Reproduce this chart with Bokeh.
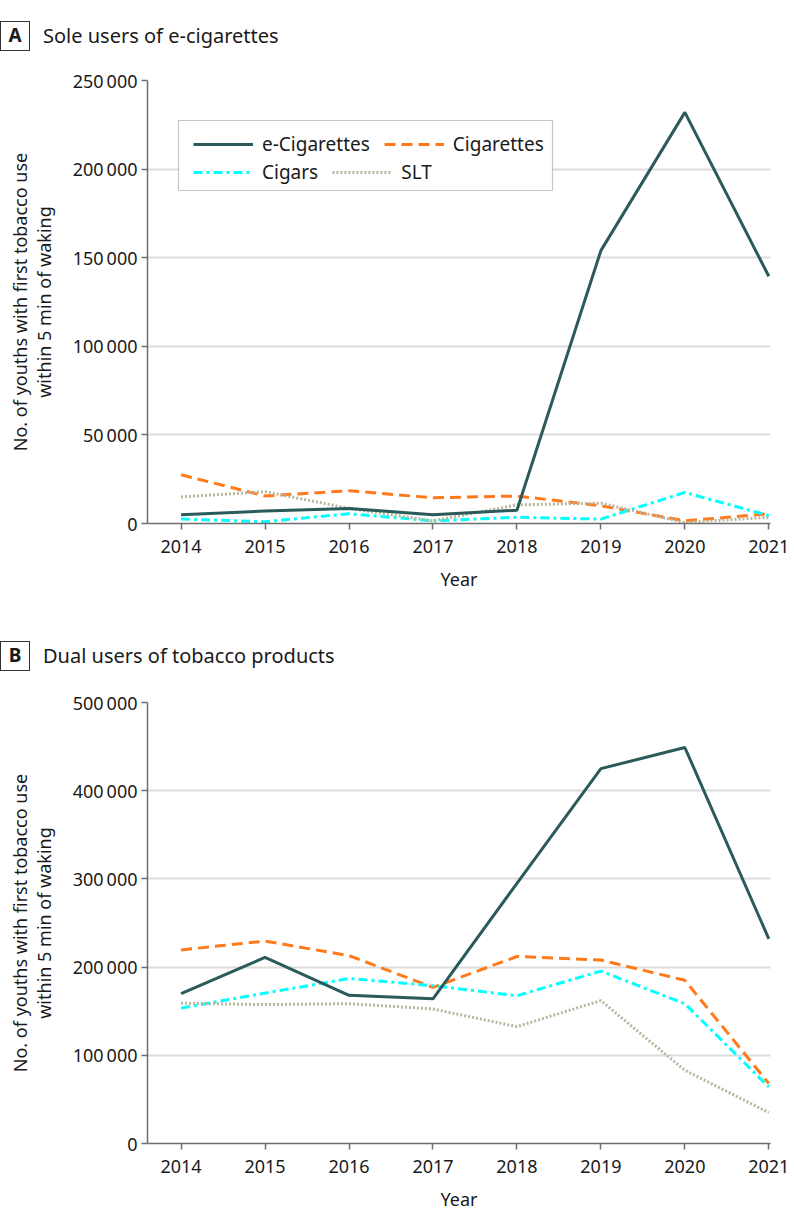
from bokeh.plotting import figure
from bokeh.models import (Range1d, FixedTicker, CustomJSTickFormatter, Legend, LegendItem,
                          BoxAnnotation, Div)
from bokeh.layouts import column
from bokeh.embed import file_html
from bokeh.resources import INLINE

years = [2014, 2015, 2016, 2017, 2018, 2019, 2020, 2021]

# Panel A: sole users of e-cigarettes
a_ecig = [5000, 7000, 8500, 5000, 7500, 154000, 232000, 139500]
a_cig = [27500, 15500, 18500, 14500, 15500, 10000, 1500, 5500]
a_cigars = [2500, 1000, 5500, 1500, 3500, 2500, 17500, 4500]
a_slt = [15000, 18000, 8500, 1500, 10500, 11500, 500, 3500]

# Panel B: dual users of tobacco products
b_ecig = [170000, 211000, 168000, 164000, 295000, 425000, 449000, 232000]
b_cig = [219500, 229500, 213000, 177000, 212000, 208000, 185000, 68000]
b_cigars = [153500, 170500, 187000, 179000, 167500, 195500, 158500, 64000]
b_slt = [159000, 157500, 158500, 152500, 132500, 162000, 83000, 35000]

series_names = ["e-Cigarettes", "Cigarettes", "Cigars", "SLT"]
colors = ["#2b5a5a", "#ff7a1a", "#00ffff", "#b8b69e"]
dashes = ["solid", "11 6", "9 4 3 4", "2 2"]
widths = [3, 3, 3, 3]

FONT = "Noto Sans"
TXT = "#1a1a1a"
W = 790
FL, FW = 147, 623          # frame left / frame width in px
X0, X1 = 2013.6, 2021.02
y_title = "No. of youths with first tobacco use\nwithin 5 min of waking"

fmt = CustomJSTickFormatter(code="""
const s = Math.round(tick).toString();
return s.length > 4 ? s.replace(/\\B(?=(\\d{3})+(?!\\d))/g, '\\u2009') : s;
""")


def make_header(letter, title, height, box_top):
    html = (
        f'<div style="position:relative;width:{W}px;height:{height}px;'
        f'font-family:\'{FONT}\';color:{TXT};">'
        f'<div style="position:absolute;left:0px;top:{box_top}px;width:30px;height:30px;'
        f'box-sizing:border-box;border:1.4px solid #333;font-weight:bold;font-size:19px;'
        f'line-height:27px;text-align:center;">{letter}</div>'
        f'<div style="position:absolute;left:43px;top:{box_top}px;height:30px;'
        f'font-size:20px;line-height:30px;white-space:nowrap;">{title}</div>'
        f'</div>'
    )
    return Div(text=html, width=W, height=height, margin=(0, 0, 0, 0))


def make_panel(data, ymax, ystep, height, top, bottom, frame_h, legend):
    p = figure(width=W, height=height, output_backend="svg", toolbar_location=None,
               x_range=Range1d(X0, X1), y_range=Range1d(0, ymax),
               min_border_left=FL, min_border_right=W - FL - FW,
               min_border_top=top, min_border_bottom=bottom)
    p.outline_line_color = None
    p.xgrid.grid_line_color = None
    p.ygrid.grid_line_color = "#dcdcdc"
    p.ygrid.grid_line_width = 2
    p.ygrid.ticker = FixedTicker(ticks=list(range(0, ymax + 1, ystep)))

    p.xaxis.ticker = FixedTicker(ticks=years)
    p.yaxis.ticker = FixedTicker(ticks=list(range(0, ymax + 1, ystep)))
    p.yaxis.formatter = fmt
    for ax in (p.xaxis[0], p.yaxis[0]):
        ax.axis_line_color = "#6e6e6e"
        ax.axis_line_width = 1.5
        ax.major_tick_line_color = "#6e6e6e"
        ax.major_tick_line_width = 1.5
        ax.major_tick_in = 0
        ax.major_tick_out = 6
        ax.minor_tick_line_color = None
        ax.major_label_text_font = FONT
        ax.major_label_text_font_size = "18px"
        ax.major_label_text_color = TXT
        ax.axis_label_text_font = FONT
        ax.axis_label_text_font_size = "18px"
        ax.axis_label_text_font_style = "normal"
        ax.axis_label_text_color = TXT
    p.xaxis.axis_label = "Year"
    p.xaxis.major_label_standoff = 10
    p.xaxis.axis_label_standoff = 11
    p.yaxis.axis_label = y_title
    p.yaxis.axis_label_text_line_height = 1.0
    p.yaxis.major_label_standoff = 4
    p.yaxis.axis_label_standoff = 14

    renderers = []
    for name, vals, c, d, w in zip(series_names, data, colors, dashes, widths):
        r = p.line(years, vals, line_color=c, line_dash=d, line_width=w)
        renderers.append(r)
    renderers[0].level = "overlay"

    if legend:
        xpx = (X1 - X0) / FW
        ypx = ymax / frame_h
        box = BoxAnnotation(left=X0 + 31 * xpx, right=X0 + 405 * xpx,
                            top=ymax - 40 * ypx, bottom=ymax - 110 * ypx,
                            fill_color="white", fill_alpha=1,
                            line_color="#444444", line_width=1.2, level="annotation")
        p.add_layout(box)
        rows = [(0, 2, 366), (2, 4, 338)]
        for i0, i1, yloc in rows:
            items = [LegendItem(label=series_names[i], renderers=[renderers[i]]) for i in range(i0, i1)]
            lg = Legend(items=items, orientation="horizontal",
                        label_text_font=FONT, label_text_font_size="19px",
                        label_text_color=TXT,
                        glyph_width=60, glyph_height=20, label_standoff=9,
                        spacing=14, padding=0, margin=0,
                        border_line_color=None, background_fill_alpha=0)
            lg.location = (46, yloc)
            p.add_layout(lg, "center")
    return p


ha = make_header("A", "Sole users of e-cigarettes", 60, 21)
pa = make_panel([a_ecig, a_cig, a_cigars, a_slt], 250000, 50000, 555, 20, 92, 443, True)
hb = make_header("B", "Dual users of tobacco products", 65, 26)
pb = make_panel([b_ecig, b_cig, b_cigars, b_slt], 500000, 100000, 545, 22, 82, 441, False)

layout = column(ha, pa, hb, pb, spacing=0)
open("out.html", "w").write(file_html(layout, INLINE))
